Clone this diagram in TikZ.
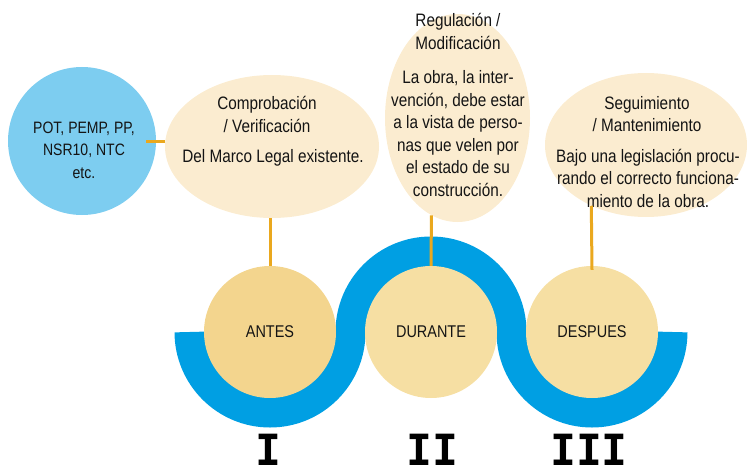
\documentclass[tikz,border=0pt]{standalone}
\usepackage{fontspec}
\setmainfont{Liberation Sans}[FakeStretch=0.85]
\newfontfamily\romfont{DejaVu Sans Mono}
\usetikzlibrary{shapes.geometric}

\definecolor{bandblue}{RGB}{0,159,227}
\definecolor{skyblue}{RGB}{125,205,240}
\definecolor{cream}{RGB}{251,236,208}
\definecolor{sand}{RGB}{243,213,142}
\definecolor{sandlight}{RGB}{246,223,163}
\definecolor{linkorange}{RGB}{234,168,30}
\definecolor{txt}{RGB}{20,20,20}

\begin{document}
\begin{tikzpicture}[x=1pt,y=1pt,
  bubble/.style={ellipse, fill=cream, inner sep=0pt},
  stage/.style={circle, fill=sandlight, minimum size=132pt, inner sep=0pt, text=txt, font=\fontsize{17}{20}\selectfont},
  txtbox/.style={align=center, text=txt, inner sep=0pt, font=\fontsize{18}{22.5}\selectfont},
  link/.style={draw=linkorange, line width=3pt},
  numeral/.style={text=black, inner sep=0pt, font=\romfont\bfseries\fontsize{43}{43}\selectfont}]
\useasboundingbox (0,0) rectangle (747,475);

% bubbles on top
\node[circle, fill=skyblue, minimum size=148pt, inner sep=0pt] (pot) at (82,334) {};
\node[txtbox, font=\fontsize{16.5}{22.5}\selectfont] (pottxt) at (84,325) {POT, PEMP, PP,\\NSR10, NTC\\etc.};

\node[bubble, minimum width=214pt, minimum height=143pt] (comprob) at (272,328.5) {};
\node[txtbox] (comprobtit) at (267,360.5) {Comprobación\\/ Verificación};
\node[txtbox] (comprobtxt) at (273,317) {Del Marco Legal existente.};

\node[bubble, minimum width=145pt, minimum height=208pt] (regul) at (457.5,357) {};
\node[txtbox] (regultit) at (458,443.5) {Regulación /\\Modificación};
\node[txtbox] (regultxt) at (458,341.5) {La obra, la inter-\\vención, debe estar\\a la vista de perso-\\nas que velen por\\el estado de su\\construcción.};

\node[bubble, minimum width=202pt, minimum height=144pt] (seguim) at (646,330) {};
\node[txtbox] (seguimtit) at (647,361) {Seguimiento\\/ Mantenimiento};
\node[txtbox] (seguimtxt) at (648,297) {Bajo una legislación procu-\\rando el correcto funciona-\\miento de la obra.};

% the wave
\draw[bandblue, line width=30pt] (189.5,143) arc[start angle=180, end angle=360, radius=80.5]
  arc[start angle=180, end angle=0, radius=80.5]
  arc[start angle=180, end angle=360, radius=80.5];

\node[stage, fill=sand] (antes) at (270,143) {ANTES};
\node[stage] (durante) at (431,143) {DURANTE};
\node[stage] (despues) at (592,143) {DESPUES};

\node[numeral] (uno) at (268,25) {I};
\node[numeral] (dos) at (432,25) {II};
\node[numeral] (tres) at (589,25) {III};

\draw[link] ([xshift=-10pt]pot.east) -- (comprob.west |- pot.east);
\draw[link] (antes.north) -- (antes.north |- comprob.south);
\draw[link] (durante.north) -- (regul.255);
\draw[link] ([yshift=-4pt]despues.north) -- (seguim.228);

\end{tikzpicture}
\end{document}
